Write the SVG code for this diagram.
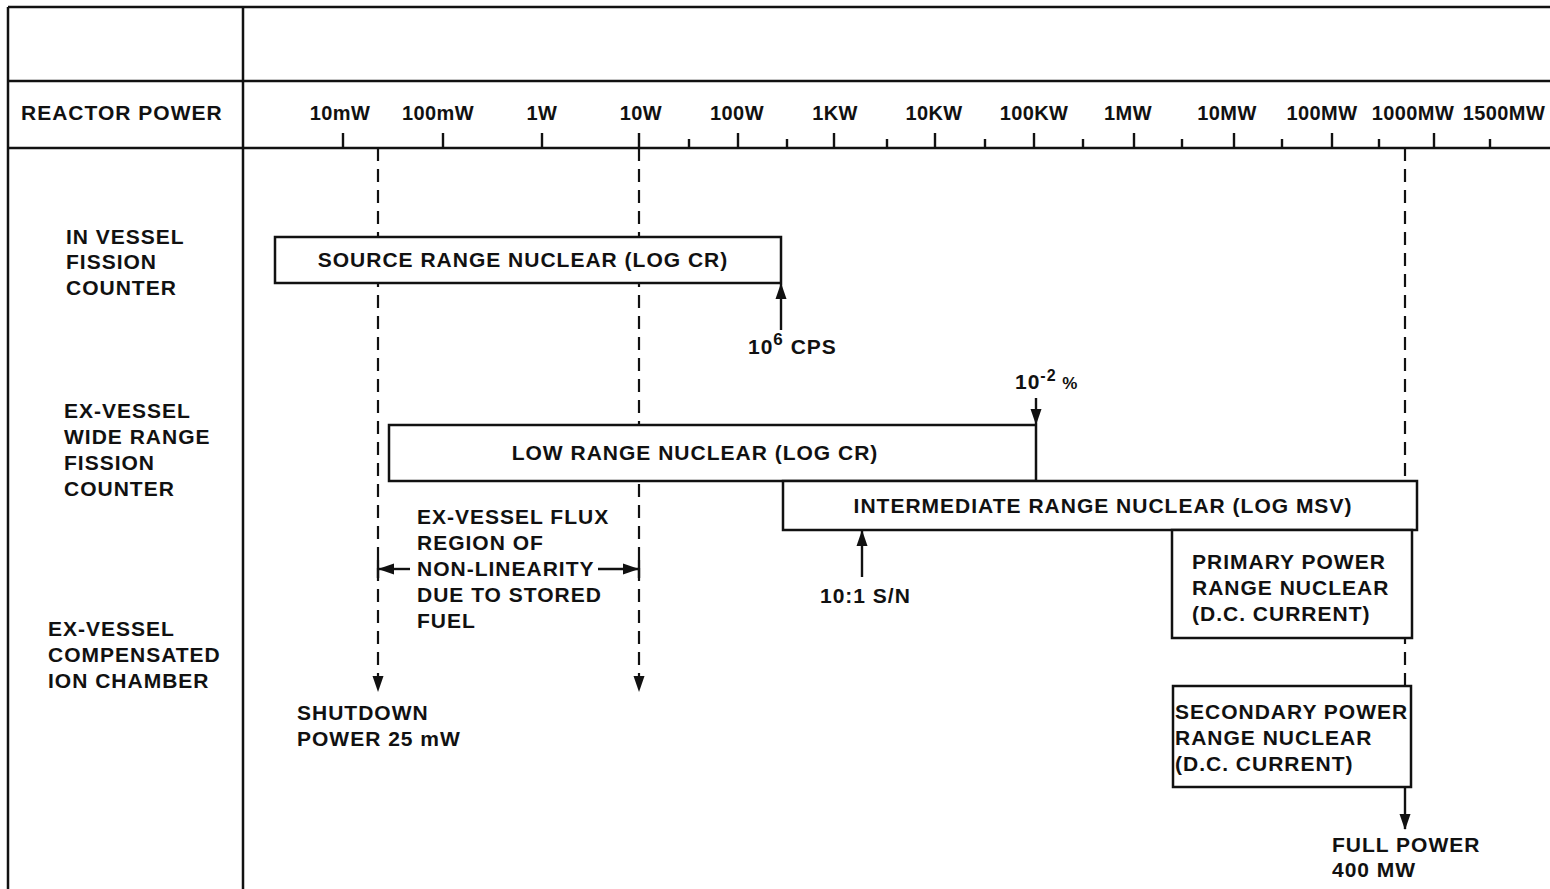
<svg xmlns="http://www.w3.org/2000/svg" width="1550" height="889" viewBox="0 0 1550 889">
<defs>
<style>
text{font-family:"Liberation Sans",Arial,sans-serif;font-weight:bold;font-size:21px;letter-spacing:1px;fill:#111}
.tk text{text-anchor:middle;font-size:20px;letter-spacing:0.4px}
.frame{stroke:#111;stroke-width:2.5;fill:none}
.box{stroke:#111;stroke-width:2.5;fill:#fff}
.dash{stroke:#111;stroke-width:2.2;stroke-dasharray:13 8;fill:none}
.ln{stroke:#111;stroke-width:2.4;fill:none}
</style>
<marker id="ah" markerWidth="16" markerHeight="12" refX="15" refY="6" orient="auto" markerUnits="userSpaceOnUse" viewBox="0 0 16 12">
<path d="M0,0.5 L16,6 L0,11.5 Z" fill="#111"/>
</marker>
</defs>
<rect width="1550" height="889" fill="#fff"/>
<g id="frame">
<line class="frame" x1="8" y1="7" x2="1550" y2="7"/>
<line class="frame" x1="8" y1="7" x2="8" y2="889"/>
<line class="frame" x1="243" y1="7" x2="243" y2="889"/>
<line class="frame" x1="8" y1="81" x2="1550" y2="81"/>
<line class="frame" x1="8" y1="148" x2="1550" y2="148"/>
<text x="21" y="120">REACTOR POWER</text>
</g>
<g id="axis" class="tk">
<g class="ln">
<line x1="343" y1="133" x2="343" y2="148"/>
<line x1="443" y1="133" x2="443" y2="148"/>
<line x1="542" y1="133" x2="542" y2="148"/>
<line x1="639" y1="133" x2="639" y2="148"/>
<line x1="738" y1="133" x2="738" y2="148"/>
<line x1="834" y1="133" x2="834" y2="148"/>
<line x1="935" y1="133" x2="935" y2="148"/>
<line x1="1034" y1="133" x2="1034" y2="148"/>
<line x1="1134" y1="133" x2="1134" y2="148"/>
<line x1="1234" y1="133" x2="1234" y2="148"/>
<line x1="1332" y1="133" x2="1332" y2="148"/>
<line x1="1434" y1="133" x2="1434" y2="148"/>
<line x1="689" y1="139" x2="689" y2="148"/>
<line x1="787" y1="139" x2="787" y2="148"/>
<line x1="887" y1="139" x2="887" y2="148"/>
<line x1="985" y1="139" x2="985" y2="148"/>
<line x1="1083" y1="139" x2="1083" y2="148"/>
<line x1="1182" y1="139" x2="1182" y2="148"/>
<line x1="1282" y1="139" x2="1282" y2="148"/>
<line x1="1379" y1="139" x2="1379" y2="148"/>
<line x1="1490" y1="139" x2="1490" y2="148"/>
</g>
<text x="340" y="120">10mW</text>
<text x="438" y="120">100mW</text>
<text x="542" y="120">1W</text>
<text x="641" y="120">10W</text>
<text x="737" y="120">100W</text>
<text x="835" y="120">1KW</text>
<text x="934" y="120">10KW</text>
<text x="1034" y="120">100KW</text>
<text x="1128" y="120">1MW</text>
<text x="1227" y="120">10MW</text>
<text x="1322" y="120">100MW</text>
<text x="1413" y="120" letter-spacing="0">1000MW</text>
<text x="1504" y="120" letter-spacing="0">1500MW</text>
</g>
<g id="connectors">
<line class="dash" x1="378" y1="148" x2="378" y2="691" marker-end="url(#ah)"/>
<line class="dash" x1="639" y1="148" x2="639" y2="691" marker-end="url(#ah)"/>
<line class="dash" x1="1405" y1="148" x2="1405" y2="686"/>
<line class="ln" x1="1405" y1="787" x2="1405" y2="829" marker-end="url(#ah)"/>
<line class="ln" x1="781" y1="330" x2="781" y2="284" marker-end="url(#ah)"/>
<line class="ln" x1="1036" y1="398" x2="1036" y2="424" marker-end="url(#ah)"/>
<line class="ln" x1="862" y1="577" x2="862" y2="531" marker-end="url(#ah)"/>
<line class="ln" x1="378" y1="560" x2="378" y2="578"/>
<line class="ln" x1="410" y1="569" x2="379" y2="569" marker-end="url(#ah)"/>
<line class="ln" x1="639" y1="560" x2="639" y2="578"/>
<line class="ln" x1="598" y1="569" x2="638" y2="569" marker-end="url(#ah)"/>
</g>
<g id="labels-left">
<text x="66" y="244">IN VESSEL</text>
<text x="66" y="269">FISSION</text>
<text x="66" y="295">COUNTER</text>
<text x="64" y="418">EX-VESSEL</text>
<text x="64" y="444">WIDE RANGE</text>
<text x="64" y="470">FISSION</text>
<text x="64" y="496">COUNTER</text>
<text x="48" y="636">EX-VESSEL</text>
<text x="48" y="662">COMPENSATED</text>
<text x="48" y="688">ION CHAMBER</text>
</g>
<g id="source-range">
<rect class="box" x="275" y="237" width="506" height="46"/>
<text x="523" y="267" text-anchor="middle">SOURCE RANGE NUCLEAR (LOG CR)</text>
</g>
<g id="low-range">
<rect class="box" x="389" y="425" width="647" height="56"/>
<text x="695" y="460" text-anchor="middle">LOW RANGE NUCLEAR (LOG CR)</text>
</g>
<g id="intermediate-range">
<rect class="box" x="783" y="481" width="634" height="49"/>
<text x="1103" y="513" text-anchor="middle">INTERMEDIATE RANGE NUCLEAR (LOG MSV)</text>
</g>
<g id="primary-power">
<rect class="box" x="1172" y="530" width="240" height="108"/>
<text x="1192" y="569">PRIMARY POWER</text>
<text x="1192" y="595">RANGE NUCLEAR</text>
<text x="1192" y="621">(D.C. CURRENT)</text>
</g>
<g id="secondary-power">
<rect class="box" x="1173" y="686" width="238" height="101"/>
<text x="1175" y="719" letter-spacing="0.5">SECONDARY POWER</text>
<text x="1175" y="745">RANGE NUCLEAR</text>
<text x="1175" y="771">(D.C. CURRENT)</text>
</g>
<g id="annotations">
<text x="748" y="354">10<tspan dy="-9" font-size="17">6</tspan><tspan dy="9"> CPS</tspan></text>
<text x="1015" y="389">10<tspan dy="-8" font-size="16">-2</tspan><tspan dy="8" font-size="17"> %</tspan></text>
<text x="820" y="603">10:1 S/N</text>
<text x="417" y="524">EX-VESSEL FLUX</text>
<text x="417" y="550">REGION OF</text>
<text x="417" y="576">NON-LINEARITY</text>
<text x="417" y="602">DUE TO STORED</text>
<text x="417" y="628">FUEL</text>
<text x="297" y="720">SHUTDOWN</text>
<text x="297" y="746">POWER 25 mW</text>
<text x="1332" y="852">FULL POWER</text>
<text x="1332" y="877">400 MW</text>
</g>
</svg>
